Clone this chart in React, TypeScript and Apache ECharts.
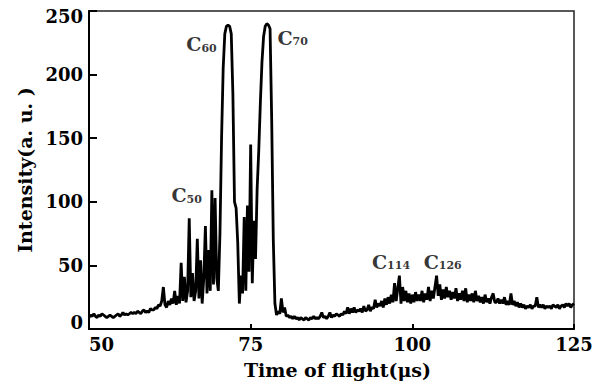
import React, { useEffect, useRef } from "react";
import * as echarts from "echarts";

// Time-of-flight samples: every segment starts at its own time, sampled every 0.25 µs
const STEP = 0.25;
const baseline50 = [
  9, 11, 10, 12, 10, 9, 11, 10, 12, 11, 10, 9, 10, 11, 10, 9, 10, 11, 12, 10,
  11, 13, 11, 12, 11, 12, 13, 12, 13, 12, 14, 13, 12, 14, 15, 13, 14, 13, 16, 15,
];
const c50Region = [
  15, 17, 16, 19, 18, 22, 33, 19, 17, 22, 19, 24, 20, 30, 19, 26, 20, 52, 22, 41,
  21, 30, 87, 25, 44, 22, 30, 71, 24, 54, 20, 40, 81, 28, 62, 30, 109, 35, 103, 40,
];
const fullerenePeaks = [
  30, 75, 150, 205, 232, 238, 239, 238, 232, 185, 100, 95, 68, 20, 42, 28, 88, 30, 97, 45,
  145, 36, 85, 55, 110, 140, 178, 210, 230, 238, 240, 239, 236, 165, 70, 20, 11, 14, 12, 24,
];
const valley80 = [
  13, 17, 10, 11, 9, 10, 8, 10, 8, 9, 7, 9, 8, 7, 9, 8, 7, 9, 8, 10,
  8, 9, 8, 10, 13, 9, 10, 8, 10, 13, 9, 11, 10, 12, 11, 10, 12, 11, 14, 12,
];
const cluster90 = [
  17, 12, 16, 13, 17, 13, 15, 14, 16, 13, 18, 14, 15, 19, 14, 17, 16, 23, 17, 20,
  18, 22, 17, 24, 19, 25, 20, 27, 21, 36, 22, 32, 42, 20, 33, 22, 30, 21, 28, 20,
];
const tail100 = [
  27, 21, 29, 22, 27, 22, 30, 21, 28, 23, 33, 22, 30, 24, 33, 42, 26, 35, 23, 31,
  24, 33, 25, 30, 23, 29, 24, 32, 22, 28, 23, 30, 22, 32, 21, 27, 22, 28, 21, 30,
];
const tail110 = [
  22, 26, 21, 25, 20, 27, 21, 24, 20, 25, 28, 21, 21, 24, 20, 23, 20, 25, 19, 22,
  19, 28, 19, 22, 18, 21, 17, 20, 17, 19, 16, 18, 17, 19, 16, 18, 18, 25, 17, 19,
];
const tail120 = [
  17, 19, 16, 18, 17, 18, 16, 19, 18, 17, 19, 16, 18, 19, 17, 20, 18, 20, 17, 19, 20,
];
const segments: [number, number[]][] = [
  [50, baseline50],
  [60, c50Region],
  [70, fullerenePeaks],
  [80, valley80],
  [90, cluster90],
  [100, tail100],
  [110, tail110],
  [120, tail120],
];

// Peak annotations (cluster sizes) and where their labels sit (time, intensity)
const labelSizes = ["60", "70", "50", "114", "126"];
const labelTimes = [67.4, 81.5, 65.1, 96.7, 104.7];
const labelValues = [226, 231, 107, 55, 55];

const xTicks = [50, 75, 100, 125];
const yTicks = [0, 50, 100, 150, 200, 250];

const FONT = "DejaVu Serif";

export default function App() {
  const ref = useRef<HTMLDivElement>(null);
  useEffect(() => {
    if (!ref.current) return;
    const chart = echarts.init(ref.current, null, { renderer: "svg" });
    const spectrum: [number, number][] = [];
    segments.forEach(([start, vals]) => {
      vals.forEach((v, i) => spectrum.push([start + i * STEP, v]));
    });
    const labels = labelSizes.map((s, i) => [labelTimes[i], labelValues[i], s]);
    const yMin = yTicks[0];
    const yMax = yTicks[yTicks.length - 1];
    chart.setOption({
      animation: false,
      backgroundColor: "#fff",
      grid: {
        left: 89,
        right: 34,
        top: 11,
        bottom: 58,
        show: true,
        borderColor: "#222",
        borderWidth: 1.5,
      },
      xAxis: {
        type: "value",
        min: xTicks[0],
        max: xTicks[xTicks.length - 1],
        interval: 25,
        name: "Time of flight(μs)",
        nameLocation: "middle",
        nameGap: 31,
        nameTextStyle: {
          fontFamily: FONT,
          fontSize: 19,
          fontWeight: "bold",
          color: "#000",
          padding: [0, 0, 0, 12],
        },
        axisLine: { lineStyle: { color: "#000", width: 2 } },
        axisTick: { inside: true, length: 5, lineStyle: { color: "#000", width: 2 } },
        axisLabel: {
          fontFamily: FONT,
          fontSize: 18,
          fontWeight: "bold",
          color: "#000",
          margin: 6,
          alignMinLabel: "left",
          alignMaxLabel: "center",
        },
        splitLine: { show: false },
      },
      yAxis: {
        type: "value",
        min: yMin,
        max: yMax,
        interval: 50,
        name: "Intensity(a. u. )",
        nameLocation: "middle",
        nameGap: 51,
        nameTextStyle: { fontFamily: FONT, fontSize: 19, fontWeight: "bold", color: "#000" },
        axisLine: { lineStyle: { color: "#000", width: 2 } },
        axisTick: { inside: true, length: 8, lineStyle: { color: "#000", width: 2 } },
        axisLabel: {
          color: "#000",
          margin: 6,
          formatter: (v: number) =>
            v === yMin ? `{lo|${v}}` : v === yMax ? `{hi|${v}}` : `{n|${v}}`,
          rich: {
            n: { fontFamily: FONT, fontSize: 18, fontWeight: "bold", color: "#000" },
            lo: { fontFamily: FONT, fontSize: 18, fontWeight: "bold", color: "#000", padding: [0, 0, 14, 0] },
            hi: { fontFamily: FONT, fontSize: 18, fontWeight: "bold", color: "#000", padding: [10, 0, 0, 0] },
          },
        },
        splitLine: { show: false },
      },
      series: [
        {
          type: "line",
          data: spectrum,
          showSymbol: false,
          symbol: "none",
          lineStyle: { color: "#000", width: 2.8 },
          z: 3,
        },
        {
          type: "scatter",
          data: labels,
          symbolSize: 0,
          silent: true,
          label: {
            show: true,
            position: "inside",
            formatter: (p: any) => `{c|C}{s|${p.data[2]}}`,
            rich: {
              c: { fontFamily: FONT, fontSize: 19, fontWeight: "bold", color: "#000", lineHeight: 24, verticalAlign: "bottom" },
              s: { fontFamily: FONT, fontSize: 11, fontWeight: "bold", color: "#000", verticalAlign: "bottom" },
            },
          },
          z: 4,
        },
      ],
    });
    return () => chart.dispose();
  }, []);
  return (
    <div
      ref={ref}
      style={{ position: "fixed", left: 0, top: 0, width: 608, height: 387 }}
    />
  );
}
